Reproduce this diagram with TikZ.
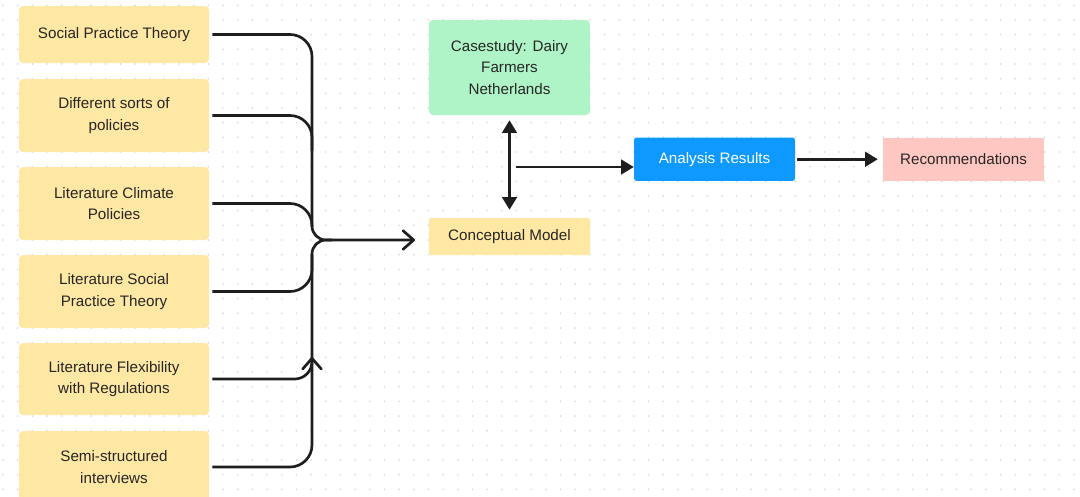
\documentclass[tikz,border=0pt]{standalone}
\usepackage{fontspec}
\setmainfont{Liberation Sans}
\usetikzlibrary{arrows.meta}

\definecolor{ink}{HTML}{1E1E1E}
\definecolor{txt}{HTML}{262626}
\definecolor{dotc}{HTML}{D9D9D9}
\definecolor{sand}{HTML}{FFE8A3}
\definecolor{mint}{HTML}{AFF4C6}
\definecolor{azure}{HTML}{0D99FF}
\definecolor{blush}{HTML}{FFC7C2}

\tikzset{
  card/.style={rectangle, rounded corners=3pt, inner sep=0pt, align=center,
    text=txt, font=\fontsize{11.4}{16.2}\selectfont},
  srcbox/.style={card, fill=sand, minimum width=142.5pt},
  conn/.style={draw=ink, line width=2pt, line join=round},
  barb/.style={-{Straight Barb[length=8pt,width=14pt,line join=round,round]}},
  solidtip/.style={-{Triangle[length=9.5pt,width=11pt]}},
  bothtips/.style={{Triangle[length=9.5pt,width=11pt]}-{Triangle[length=9.5pt,width=11pt]}},
}

\begin{document}
\begin{tikzpicture}[x=0.75pt, y=-0.75pt]
  \useasboundingbox (0,0) rectangle (1080,496);
  \clip (0,0) rectangle (1080,496);
  \fill[white] (0,0) rectangle (1080,496);

  % dotted canvas
  \foreach \i in {0,...,73}
    \foreach \j in {0,...,33}
      \fill[dotc] (3+14.67*\i, 5.3+14.67*\j) circle (0.7pt);

  % source boxes
  \node[srcbox, minimum height=42.75pt] (b1) at (114,34.5) {Social Practice Theory};
  \node[srcbox, minimum height=54.75pt] (b2) at (114,115.5) {Different sorts of\\policies};
  \node[srcbox, minimum height=54.75pt] (b3) at (114,203.5) {Literature Climate\\Policies};
  \node[srcbox, minimum height=54.75pt] (b4) at (114,291.5) {Literature Social\\Practice Theory};
  \node[srcbox, minimum height=54pt] (b5) at (114,379) {Literature Flexibility\\with Regulations};
  \node[srcbox, minimum height=54pt] (b6) at (114,467) {Semi-structured\\interviews};

  % right-hand boxes
  \node[card, fill=mint, minimum width=120.75pt, minimum height=71.25pt] (cs) at (509.5,67.5) {Casestudy: Dairy\\Farmers\\Netherlands};
  \node[card, fill=sand, rounded corners=1pt, minimum width=120.75pt, minimum height=27.75pt] (cm) at (509.5,236.5) {Conceptual Model};
  \node[card, fill=azure, text=white, rounded corners=2pt, minimum width=120.75pt, minimum height=32.6pt] (ar) at (714.5,159.25) {Analysis Results};
  \node[card, fill=blush, rounded corners=0pt, minimum width=120.75pt, minimum height=32.6pt] (rc) at (963.5,159.25) {Recommendations};

  % junction points of the bundle
  \coordinate (hub) at (312,240);
  \coordinate (trunkTop) at (312,200);
  \coordinate (trunkBot) at (312,280);
  \coordinate (cmIn) at (415,240);
  \coordinate (split) at (516,167);

  % bundle of inputs merging into the conceptual model
  \draw[conn, rounded corners=16.5pt, shorten <=2.25pt] (b1.east) -- (b1.east -| hub) -- (trunkTop);
  \draw[conn, rounded corners=16.5pt, shorten <=2.25pt] (b2.east) -- (b2.east -| hub) -- ++(0,35);
  \draw[conn, rounded corners=16.5pt, shorten <=2.25pt] (b3.east) -- (b3.east -| hub) -- ++(0,23);
  \draw[conn, rounded corners=16.5pt, shorten <=2.25pt] (b4.east) -- (b4.east -| hub) -- ++(0,-37);
  \draw[conn, barb, rounded corners=13pt, shorten <=2.25pt] (b5.east) -- (b5.east -| hub) -- ++(0,-22);
  \draw[conn, rounded corners=16.5pt, shorten <=2.25pt] (b6.east) -- (b6.east -| hub) -- (trunkBot);
  \draw[conn, barb, rounded corners=10.5pt] (trunkTop) -- (hub) -- (cmIn);
  \draw[conn, rounded corners=10.5pt] (trunkBot) -- (hub) -- ++(20,0);

  % case study <-> model, and onward to results
  \draw[conn, bothtips] ([yshift=-3.75pt]cs.south) -- ([yshift=6pt]cm.north);
  \draw[conn, solidtip] (split) -- (split -| ar.west);
  \draw[conn, solidtip] ([xshift=1.5pt]ar.east) -- ([xshift=-3.75pt]rc.west);
\end{tikzpicture}
\end{document}
